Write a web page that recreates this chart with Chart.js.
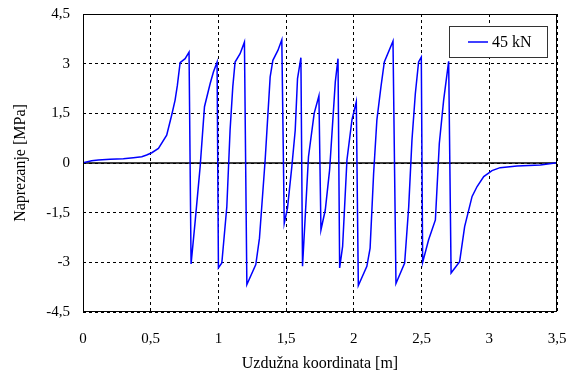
<!DOCTYPE html>
<html>
<head>
<meta charset="utf-8">
<script src="https://cdn.jsdelivr.net/npm/chart.js@4.4.0/dist/chart.umd.min.js"></script>
<style>
  html, body { margin: 0; padding: 0; background: #fff; }
  #wrap { width: 577px; height: 373px; }
</style>
</head>
<body>
<div id="wrap"><canvas id="chart" width="577" height="373"></canvas></div>
<script>
// --- DATA ---
const seriesLabel = '45 kN';
const xValues = [
  0, 0.064, 0.113, 0.2, 0.298, 0.372, 0.434, 0.47, 0.508, 0.557, 0.618, 0.655, 0.68, 0.697, 0.717, 0.754, 0.783,
  0.798, 0.828, 0.865, 0.897, 0.939, 0.963, 0.99,
  1.0, 1.025, 1.062, 1.086, 1.106, 1.123, 1.16, 1.192,
  1.21, 1.276, 1.303, 1.345, 1.382, 1.402, 1.439, 1.468,
  1.486, 1.51, 1.542, 1.567, 1.584, 1.609,
  1.621, 1.665, 1.707, 1.742,
  1.757, 1.789, 1.821, 1.863, 1.883,
  1.895, 1.917, 1.949, 1.986, 2.018,
  2.033, 2.096, 2.12, 2.146, 2.17, 2.2, 2.225, 2.289,
  2.311, 2.375, 2.405, 2.429, 2.454, 2.478, 2.498,
  2.508, 2.552, 2.602, 2.631, 2.663, 2.70,
  2.718, 2.781, 2.818, 2.873, 2.91, 2.959, 3.02, 3.08, 3.205, 3.377, 3.5
];
const yValues = [
  0.01, 0.07, 0.09, 0.11, 0.13, 0.16, 0.19, 0.24, 0.31, 0.44, 0.84, 1.45, 1.9, 2.35, 3.03, 3.15, 3.35,
  -3.05, -1.77, -0.11, 1.70, 2.4, 2.75, 3.05,
  -3.17, -3.02, -1.32, 0.99, 2.3, 3.05, 3.30, 3.65,
  -3.67, -3.07, -2.27, 0.09, 2.6, 3.10, 3.40, 3.72,
  -1.82, -1.36, -0.11, 0.99, 2.55, 3.18,
  -3.12, 0.19, 1.50, 2.03,
  -2.02, -1.42, -0.21, 2.45, 3.15,
  -3.17, -2.52, 0.09, 1.30, 1.85,
  -3.70, -3.12, -2.57, -0.31, 1.30, 2.30, 3.05, 3.68,
  -3.64, -3.02, -1.32, 0.69, 2.10, 3.05, 3.20,
  -3.0, -2.32, -1.72, 0.59, 1.90, 3.07,
  -3.32, -2.98, -1.92, -1.01, -0.71, -0.41, -0.23, -0.14, -0.09, -0.06, 0.01
];
const xMin = 0, xMax = 3.5, xStep = 0.5;
const yMin = -4.5, yMax = 4.5, yStep = 1.5;
const xTitle = 'Uzdužna koordinata [m]';
const yTitle = 'Naprezanje [MPa]';

const FONT = 'Liberation Serif, "Times New Roman", serif';
const lineColor = '#0000ff';

function commaNum(v) {
  return String(Math.round(v * 10) / 10).replace('.', ',');
}

// frame, zero line and legend box
const framePlugin = {
  id: 'frame',
  beforeDatasetsDraw(chart) {
    const { ctx, chartArea: a, scales } = chart;
    const y0 = scales.y.getPixelForValue(0);
    ctx.save();
    ctx.strokeStyle = '#000';
    ctx.lineWidth = 1.5;
    ctx.beginPath();
    ctx.moveTo(a.left, y0);
    ctx.lineTo(a.right, y0);
    ctx.stroke();
    ctx.restore();
  },
  afterDraw(chart) {
    const { ctx, chartArea: a } = chart;
    ctx.save();
    ctx.strokeStyle = '#000';
    ctx.lineWidth = 1;
    ctx.strokeRect(a.left + 0.5, a.top + 0.5, a.right - a.left - 1, a.bottom - a.top - 1);

    // legend
    const bw = 98, bh = 31;
    const bx = a.right - 10 - bw, by = a.top + 12;
    ctx.fillStyle = '#fff';
    ctx.fillRect(bx, by, bw, bh);
    ctx.strokeStyle = '#333';
    ctx.strokeRect(bx + 0.5, by + 0.5, bw, bh);
    const ly = by + bh / 2 + 0.5;
    ctx.strokeStyle = lineColor;
    ctx.lineWidth = 1.5;
    ctx.beginPath();
    ctx.moveTo(bx + 19, ly);
    ctx.lineTo(bx + 39, ly);
    ctx.stroke();
    ctx.fillStyle = '#000';
    ctx.font = '16px ' + FONT;
    ctx.textBaseline = 'middle';
    ctx.textAlign = 'left';
    ctx.fillText(seriesLabel, bx + 43, ly + 1);
    ctx.restore();
  }
};

const points = xValues.map((x, i) => ({ x: x, y: yValues[i] }));

new Chart(document.getElementById('chart').getContext('2d'), {
  type: 'line',
  data: {
    datasets: [{
      label: seriesLabel,
      data: points,
      borderColor: lineColor,
      borderWidth: 1.5,
      pointRadius: 0,
      tension: 0,
      fill: false
    }]
  },
  options: {
    responsive: false,
    animation: false,
    layout: { padding: { top: 14, right: 20, left: 0, bottom: 0 } },
    plugins: {
      legend: { display: false },
      tooltip: { enabled: false }
    },
    scales: {
      x: {
        type: 'linear',
        min: xMin,
        max: xMax,
        afterBuildTicks(scale) {
          const t = [];
          for (let v = xMin; v <= xMax + 1e-9; v += xStep) t.push({ value: Math.round(v * 10) / 10 });
          scale.ticks = t;
        },
        afterFit(scale) {
          scale.height = 61;
          scale.paddingLeft = 0;
          scale.paddingRight = 0;
        },
        ticks: {
          callback: v => commaNum(v),
          color: '#000',
          font: { family: FONT, size: 15 },
          padding: 18,
          maxRotation: 0
        },
        grid: { color: '#000', lineWidth: 1, drawTicks: false },
        border: { display: false, dash: [3, 3] },
        title: {
          display: true,
          text: xTitle,
          color: '#000',
          font: { family: FONT, size: 16 },
          padding: { top: 0, bottom: 0 }
        }
      },
      y: {
        type: 'linear',
        min: yMin,
        max: yMax,
        afterBuildTicks(scale) {
          const t = [];
          for (let v = yMin; v <= yMax + 1e-9; v += yStep) t.push({ value: Math.round(v * 10) / 10 });
          scale.ticks = t;
        },
        afterFit(scale) {
          scale.width = 83;
          scale.paddingTop = 0;
          scale.paddingBottom = 0;
        },
        ticks: {
          callback: v => commaNum(v),
          color: '#000',
          font: { family: FONT, size: 15 },
          padding: 13
        },
        grid: { color: '#000', lineWidth: 1, drawTicks: false },
        border: { display: false, dash: [3, 3] },
        title: {
          display: true,
          text: yTitle,
          color: '#000',
          font: { family: FONT, size: 16 },
          padding: { top: 11, bottom: 0 }
        }
      }
    }
  },
  plugins: [framePlugin]
});
</script>
</body>
</html>
